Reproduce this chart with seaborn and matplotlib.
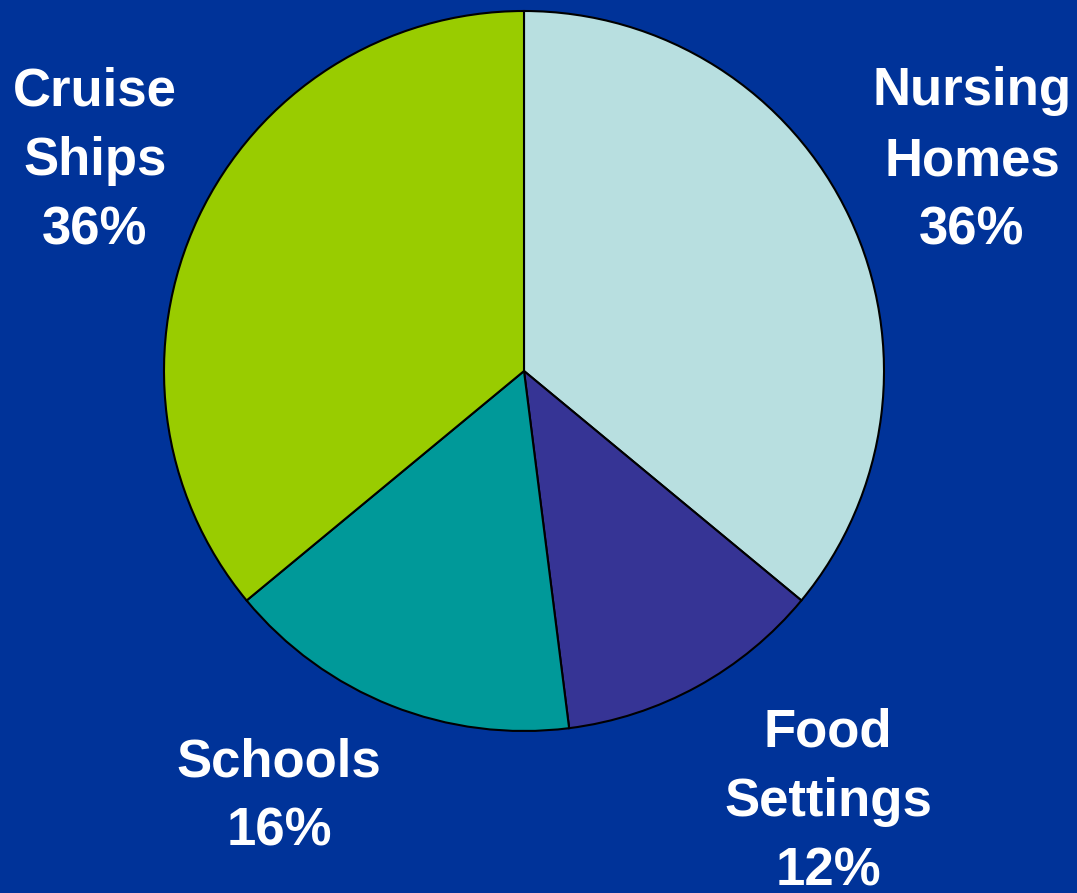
import matplotlib
matplotlib.use("Agg")
import matplotlib.pyplot as plt
import seaborn as sns

# outbreak settings share
labels = ["Nursing\nHomes", "Food\nSettings", "Schools", "Cruise\nShips"]
shares = [36, 12, 16, 36]
colors = ["#B8DFE0", "#363495", "#009999", "#99CC00"]

BG = "#003399"

sns.set_style("white")
plt.rcParams["font.family"] = ["Liberation Sans", "DejaVu Sans"]

fig = plt.figure(figsize=(10.77, 8.93), dpi=100, facecolor=BG)
ax = fig.add_axes([0, 0, 1, 1])
ax.set_facecolor(BG)

pal = sns.color_palette(colors)
ax.pie(shares, colors=pal, startangle=90, counterclock=False,
       radius=360, center=(524, 522), frame=True,
       wedgeprops=dict(edgecolor="black", linewidth=1.5))
ax.set_xlim(0, 1077)
ax.set_ylim(0, 893)
ax.set_aspect("equal")
ax.axis("off")

# label positions (pixel space, y up)
label_pos = [(972, 732), (828, 91), (279, 96), (95, 732)]
for lab, v, (x, y) in zip(labels, shares, label_pos):
    ax.text(x, y, f"{lab}\n{v}%", ha="center", va="center", color="white",
            fontsize=38, fontweight="bold", linespacing=1.5)

fig.savefig("out.png", dpi=100, facecolor=BG)
